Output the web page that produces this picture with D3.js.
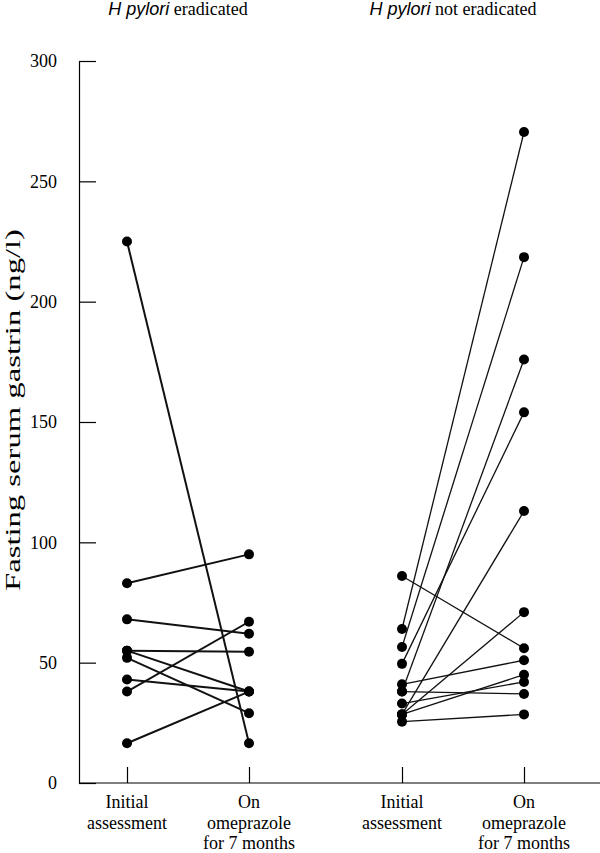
<!DOCTYPE html>
<html>
<head>
<meta charset="utf-8">
<script src="https://cdn.jsdelivr.net/npm/d3@7"></script>
<style>
  body { margin: 0; background: #fff; }
</style>
</head>
<body>
<div id="chart"></div>
<script>
// groups and time points
var groups = ["eradicated", "not eradicated"];
var times = ["initial", "omeprazole"];
var timeLabels = [["Initial", "assessment"], ["On", "omeprazole", "for 7 months"]];
var yTicks = [0, 50, 100, 150, 200, 250, 300];

// fasting serum gastrin (ng/l), one pair per patient
var eradicatedBefore = [225, 83, 68, 55, 55, 52, 43, 38, 16.5];
var eradicatedAfter  = [16.5, 95, 62, 54.5, 38, 29, 38, 67, 38];
var notEradicatedBefore = [86, 64, 56.5, 49.5, 38, 41, 38, 33, 28.5, 28.5, 28.5, 25.5];
var notEradicatedAfter  = [56, 270.5, 218.5, 154, 176, 51, 37, 42, 45, 71, 113, 28.5];

var serif = "'Liberation Serif', 'Times New Roman', serif";

var margin = {top: 61, right: 0, bottom: 70, left: 79},
    width = 600 - margin.left - margin.right,
    height = 853 - margin.top - margin.bottom;

var svg = d3.select("#chart")
  .append("svg")
    .attr("width", width + margin.left + margin.right)
    .attr("height", height + margin.top + margin.bottom)
  .append("g")
    .attr("transform", "translate(" + margin.left + "," + margin.top + ")");

var yScale = d3.scaleLinear()
    .domain([0, 300])
    .range([height, 0]);

var xGroup = d3.scalePoint()
    .domain(groups)
    .range([109, 384]);

var xTime = d3.scalePoint()
    .domain(times)
    .range([-61, 61]);

var xPos = function(g, t) { return xGroup(g) + xTime(t); };

var series = [
  {group: "eradicated", before: eradicatedBefore, after: eradicatedAfter, stroke: 2},
  {group: "not eradicated", before: notEradicatedBefore, after: notEradicatedAfter, stroke: 1.3}
];

series.forEach(function(s) {
  var pairs = s.before.map(function(b, i) { return [b, s.after[i]]; });

  svg.append("g").selectAll("line")
    .data(pairs)
    .enter()
    .append("line")
      .attr("x1", xPos(s.group, "initial"))
      .attr("y1", d => yScale(d[0]))
      .attr("x2", xPos(s.group, "omeprazole"))
      .attr("y2", d => yScale(d[1]))
      .style("stroke", "#111")
      .style("stroke-width", s.stroke);

  var dots = [];
  pairs.forEach(function(p) {
    dots.push({t: "initial", v: p[0]});
    dots.push({t: "omeprazole", v: p[1]});
  });

  svg.append("g").selectAll("circle")
    .data(dots)
    .enter()
    .append("circle")
      .attr("cx", d => xPos(s.group, d.t))
      .attr("cy", d => yScale(d.v))
      .attr("r", 5)
      .style("fill", "#000");
});

// y axis, ticks pointing inward
var yAxis = svg.append("g")
    .call(d3.axisLeft(yScale).tickValues(yTicks).tickSizeInner(-17).tickSizeOuter(0).tickPadding(22));
yAxis.selectAll("text")
    .style("font-family", serif)
    .style("font-size", "18px")
    .attr("fill", "#000");
yAxis.selectAll("line, path").attr("stroke", "#000").attr("stroke-width", 1.2);

// x baseline and ticks
var tickKeys = [], tickPos = [];
groups.forEach(function(g) {
  times.forEach(function(t) { tickKeys.push(g + "|" + t); tickPos.push(xPos(g, t)); });
});
var xTickScale = d3.scaleOrdinal().domain(tickKeys).range(tickPos);

var xAxis = svg.append("g")
    .attr("transform", "translate(0," + height + ")")
    .call(d3.axisBottom(xTickScale).tickSizeInner(-16).tickSizeOuter(0).tickFormat(""));
xAxis.select(".domain").remove();
xAxis.selectAll("line").attr("stroke", "#000").attr("stroke-width", 1.2);
svg.append("line")
    .attr("x1", 0).attr("x2", width)
    .attr("y1", height).attr("y2", height)
    .attr("stroke", "#000").attr("stroke-width", 1.2);

// multi-line category labels
groups.forEach(function(g) {
  times.forEach(function(t, ti) {
    var txt = svg.append("text")
        .attr("x", xPos(g, t))
        .attr("y", height + 25)
        .attr("text-anchor", "middle")
        .style("font-family", serif)
        .style("font-size", "18px");
    timeLabels[ti].forEach(function(line, li) {
      txt.append("tspan")
        .attr("x", xPos(g, t))
        .attr("dy", li === 0 ? 0 : 20.5)
        .text(line);
    });
  });
});

// group titles
groups.forEach(function(g) {
  var title = svg.append("text")
      .attr("x", xGroup(g) - 10)
      .attr("y", -46)
      .attr("text-anchor", "middle")
      .style("font-family", serif)
      .style("font-size", "18px");
  title.append("tspan")
      .style("font-family", "'Liberation Sans', Arial, sans-serif")
      .style("font-style", "italic")
      .style("font-size", "18px")
      .text("H pylori");
  title.append("tspan").text(" " + g);
});

// y axis title
svg.append("text")
    .attr("transform", "translate(" + (-59) + "," + (height / 2 - 12) + ") rotate(-90)")
    .attr("text-anchor", "middle")
    .attr("textLength", 362)
    .attr("lengthAdjust", "spacingAndGlyphs")
    .style("font-family", serif)
    .style("font-size", "22px")
    .text("Fasting serum gastrin (ng/l)");
</script>
</body>
</html>
